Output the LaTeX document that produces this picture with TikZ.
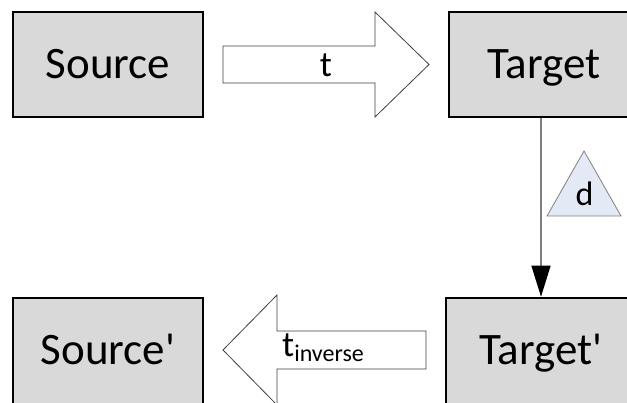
\documentclass[tikz,border=0pt]{standalone}
\usepackage{fontspec}
\setmainfont{Carlito}
\usetikzlibrary{arrows.meta}
\definecolor{boxgray}{HTML}{D9D9D9}
\definecolor{outl}{HTML}{404040}
\definecolor{lineg}{HTML}{808080}
\definecolor{triblue}{HTML}{E4EAF5}
\tikzset{
  box/.style={draw=black, fill=boxgray, line width=2.5pt, minimum width=190pt,
    minimum height=105pt, inner sep=0pt, text height=29pt, text depth=0pt,
    font=\fontsize{45}{48}\selectfont},
  lowbox/.style={box, minimum height=110pt, text depth=5pt},
  blockarrow/.style={draw=outl, fill=white, line width=0.8pt, line join=miter},
  lbl/.style={inner sep=0pt, font=\fontsize{36}{40}\selectfont},
  conn/.style={draw=lineg, line width=1.2pt,
    -{Triangle[length=31pt,width=19pt,color=black,fill=black]}},
  tri/.style={draw=lineg, fill=triblue, line width=0.8pt}
}
\begin{document}
\begin{tikzpicture}[x=1pt,y=-1pt]
\useasboundingbox (0,0) rectangle (627,403);
\clip (0,0) rectangle (627,403);
% boxes
\node[box] (S) at (108,64.5) {Source};
\node[box] (T) at (544,64.5) {Target};
\node[lowbox] (Sp) at (108,353) {Source\textquotesingle};
\node[lowbox] (Tp) at (541,353) {Target\textquotesingle};
% block arrow t
\draw[blockarrow] (223,46) -- (375,46) -- (375,12) -- (429,64.5) -- (375,117)
  -- (375,83) -- (223,83) -- cycle;
\node[lbl, anchor=base] (tl) at (326,77) {t};
% block arrow t_inverse
\draw[blockarrow] (426,331) -- (277,331) -- (277,295) -- (223,350) -- (277,405)
  -- (277,369) -- (426,369) -- cycle;
\node[lbl, anchor=base west] (til) at (282,357)
  {t\raisebox{-5pt}{\fontsize{24}{26}\selectfont inverse}};
% connector d
\draw[conn] (T.south -| Tp.north) -- (Tp.north);
\draw[tri] (547,216) -- (584,151) -- (621,216) -- cycle;
\node[inner sep=0pt, anchor=base, font=\fontsize{34}{38}\selectfont] (d) at (584.5,206) {d};
\end{tikzpicture}
\end{document}
